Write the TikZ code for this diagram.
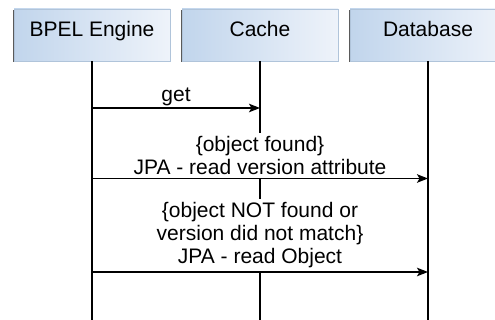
\documentclass[tikz,border=0pt]{standalone}
\usepackage{fontspec}
\setmainfont{Liberation Sans}
\usetikzlibrary{arrows.meta}
\definecolor{boxL}{RGB}{193,213,236}
\definecolor{boxR}{RGB}{238,243,250}
\definecolor{boxEdge}{RGB}{176,196,218}
\definecolor{shadowC}{RGB}{90,90,90}
\tikzset{
  actor/.style={minimum width=156pt, minimum height=52pt, inner sep=0pt,
    left color=boxL, right color=boxR, draw=boxEdge, line width=0.8pt},
  actorshadow/.style={fill=shadowC, draw=none},
  lifeline/.style={line width=1.3pt, black},
  msg/.style={line width=1.3pt, black, -{Stealth[length=11pt,width=8.5pt,inset=2.5pt]}},
  lbl/.style={fill=white, align=center, inner xsep=3pt, inner ysep=3.5pt, anchor=south,
    font=\fontsize{21}{23}\selectfont},
  title/.style={font=\fontsize{21}{23}\selectfont, anchor=base, inner sep=0pt}
}
\begin{document}
\begin{tikzpicture}[x=1pt,y=-1pt]
\useasboundingbox (0,0) rectangle (495,320);
% shadows
\fill[actorshadow] (12.5,10.5) rectangle (168.5,62.5);
\fill[actorshadow] (180.5,10.5) rectangle (336.5,62.5);
\fill[actorshadow] (348.5,10.5) rectangle (504.5,62.5);
% actor boxes
\node[actor] (bpel) at (92,35) {};
\node[actor] (cache) at (260,35) {};
\node[actor] (db) at (428,35) {};
\node[title] (tb) at (92,37) {BPEL Engine};
\node[title] (tc) at (260,37) {Cache};
\node[title] (td) at (428,37) {Database};
% lifeline ends
\coordinate (bottom) at (0,322);
\draw[lifeline] (bpel.south) -- (bpel |- bottom);
\draw[lifeline] (cache.south) -- (cache |- bottom);
\draw[lifeline] (db.south) -- (db |- bottom);
% message rows
\coordinate (m1) at (0,108);
\coordinate (m2) at (0,178.5);
\coordinate (m3) at (0,272);
% labels
\node[lbl, inner ysep=1.5pt, fill=none] (l1) at (176,108) {get};
\node[lbl] (l2) at (260,178.5) {\{object found\}\\JPA - read version attribute};
\node[lbl] (l3) at (260,272) {\{object NOT found or\\version did not match\}\\JPA - read Object};
% messages
\draw[msg] (bpel |- m1) -- (cache |- m1);
\draw[msg] (bpel |- m2) -- (db |- m2);
\draw[msg] (bpel |- m3) -- (db |- m3);
\end{tikzpicture}
\end{document}
